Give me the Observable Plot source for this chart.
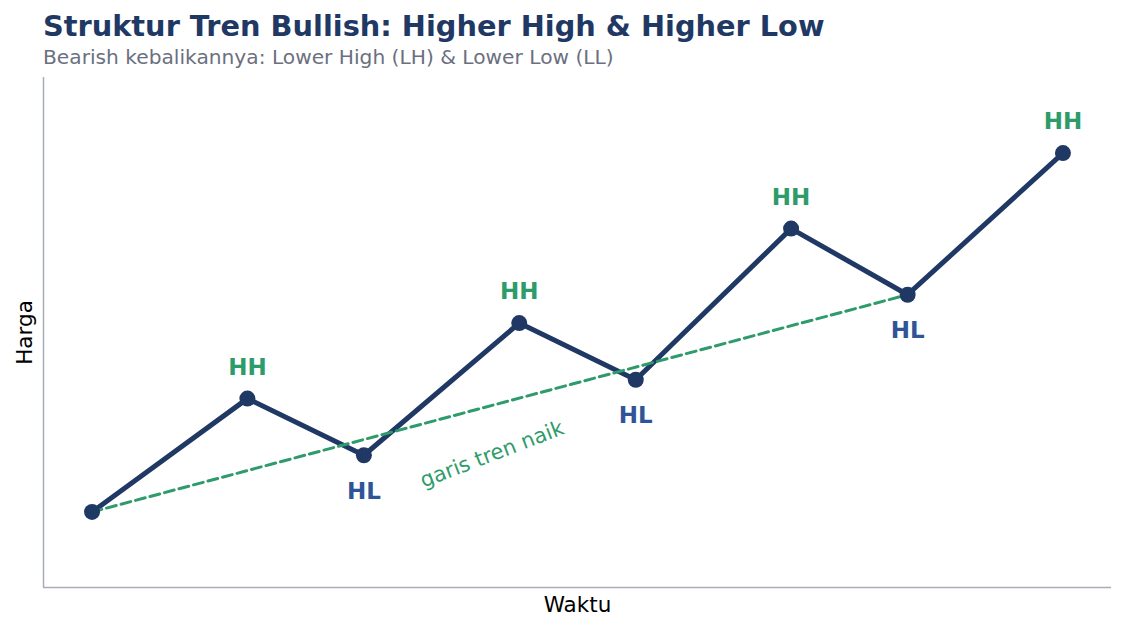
<!DOCTYPE html>
<html>
<head>
<meta charset="utf-8">
<script src="https://cdn.jsdelivr.net/npm/d3@7"></script>
<script src="https://cdn.jsdelivr.net/npm/@observablehq/plot@0.6"></script>
<style>
  html, body { margin: 0; padding: 0; background: #fff; }
  #wrap { position: relative; width: 1125px; height: 630px; font-family: "DejaVu Sans", sans-serif; }
  #title { position: absolute; left: 43px; top: 9px; font-size: 28.8px; line-height: 34px; font-weight: bold; color: #1f3864; white-space: nowrap; }
  #subtitle { position: absolute; left: 43px; top: 44.6px; font-size: 20.2px; line-height: 24px; color: #6b7080; white-space: nowrap; }
  #chart { position: absolute; left: 0; top: 70px; }
</style>
</head>
<body>
<div id="wrap">
  <div id="title">Struktur Tren Bullish: Higher High &amp; Higher Low</div>
  <div id="subtitle">Bearish kebalikannya: Lower High (LH) &amp; Lower Low (LL)</div>
  <div id="chart"></div>
</div>
<script>
const timeX = [0, 4, 7, 11, 14, 18, 21, 25];
const priceY = [10, 16, 13, 20, 17, 25, 21.5, 29];
const swingLabels = ["", "HH", "HL", "HH", "HL", "HH", "HL", "HH"];
const trendX = [0, 21];
const trendY = [10, 21.5];
const trendText = "garis tren naik";
const trendTextPos = [10.3, 13.05];
const xDomain = [-1.25, 26.25];
const yDomain = [6, 33];

const points = timeX.map((x, i) => ({x, y: priceY[i], label: swingLabels[i]}));
const trend = trendX.map((x, i) => ({x, y: trendY[i]}));
const hh = points.filter(d => d.label === "HH");
const hl = points.filter(d => d.label === "HL");

const navy = "#1f3864";
const green = "#2e9b6a";
const blue = "#2f5597";
const axisGray = "#a9adb8";

const chart = Plot.plot({
  width: 1125,
  height: 560,
  marginLeft: 43,
  marginRight: 14,
  marginTop: 7,
  marginBottom: 43,
  x: {domain: xDomain, axis: null},
  y: {domain: yDomain, axis: null},
  style: {fontFamily: "DejaVu Sans, sans-serif", background: "#fff"},
  marks: [
    Plot.ruleX([xDomain[0]], {stroke: axisGray, strokeWidth: 1.5}),
    Plot.ruleY([yDomain[0]], {stroke: axisGray, strokeWidth: 1.5}),
    Plot.line(points, {x: "x", y: "y", stroke: navy, strokeWidth: 5, strokeLinejoin: "round", strokeLinecap: "round"}),
    Plot.line(trend, {x: "x", y: "y", stroke: green, strokeWidth: 3, strokeDasharray: "10,5"}),
    Plot.dot(points, {x: "x", y: "y", r: 8, fill: navy, stroke: "none"}),
    Plot.text(hh, {x: "x", y: "y", text: "label", dy: -31, fill: green, fontSize: 23, fontWeight: "bold"}),
    Plot.text(hl, {x: "x", y: "y", text: "label", dy: 36, fill: blue, fontSize: 23, fontWeight: "bold"}),
    Plot.text([trendText], {x: () => trendTextPos[0], y: () => trendTextPos[1], text: d => d, rotate: -21, fill: green, fontSize: 21}),
    Plot.text(["Waktu"], {frameAnchor: "bottom", textAnchor: "middle", lineAnchor: "middle", dy: 18, text: d => d, fill: "#000", fontSize: 21.5}),
    Plot.text(["Harga"], {frameAnchor: "left", textAnchor: "middle", lineAnchor: "middle", dx: -18, rotate: -90, text: d => d, fill: "#000", fontSize: 21.5})
  ]
});
document.getElementById("chart").appendChild(chart);
</script>
</body>
</html>
